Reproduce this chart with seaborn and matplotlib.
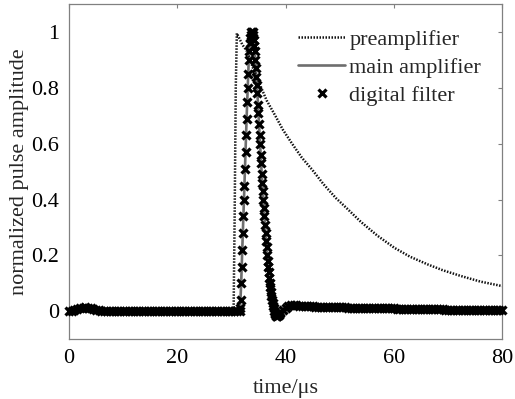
import numpy as np
import pandas as pd
import matplotlib
matplotlib.use("Agg")
import matplotlib.pyplot as plt
from matplotlib.lines import Line2D
import seaborn as sns

# ---------------- data ----------------
pre_time = [0, 30.4, 30.6, 30.8, 31.0, 31.5, 32.0, 32.9, 34.0, 35.4, 36.5, 38.1,
            39.5, 41.2, 43.0, 44.9, 47.0, 49.3, 51.5, 53.9, 57.0, 60.1, 63.0,
            66.2, 69.0, 72.4, 76.0, 80.0]
pre_amp = [0, 0, 0.35, 0.8, 0.995, 0.975, 0.955, 0.93, 0.87, 0.805, 0.755, 0.70,
           0.65, 0.60, 0.55, 0.507, 0.455, 0.405, 0.365, 0.32, 0.27, 0.227, 0.195,
           0.168, 0.147, 0.126, 0.106, 0.09]

main_time = [0, 1, 2, 3, 4, 5, 6, 7, 31.5, 31.6, 31.8, 32.0, 32.4, 32.8, 33.2,
             33.5, 33.8, 34.1, 34.4, 34.8, 35.2, 35.6, 36.0, 36.4, 36.8, 37.2,
             37.6, 38.0, 38.4, 38.8, 39.2, 40, 41, 42, 44, 50, 60, 70, 80]
main_amp = [0, 0.005, 0.011, 0.014, 0.011, 0.006, 0.002, 0, 0, 0.01, 0.10, 0.22,
            0.45, 0.69, 0.90, 0.98, 1.0, 0.97, 0.90, 0.78, 0.63, 0.49, 0.37, 0.25,
            0.16, 0.085, 0.03, -0.008, -0.018, -0.009, 0.0, 0.012, 0.021, 0.021,
            0.017, 0.014, 0.011, 0.008, 0.006]

# digital filter samples
df_time_a = np.round(np.arange(0, 31.01, 0.5), 2)
df_amp_a = [0.0, 0.002, 0.005, 0.008, 0.011, 0.013, 0.014, 0.013, 0.011, 0.009,
            0.006, 0.004, 0.002, 0.001, 0, 0, 0, 0, 0, 0,
            0, 0, 0, 0, 0, 0, 0, 0, 0, 0,
            0, 0, 0, 0, 0, 0, 0, 0, 0, 0,
            0, 0, 0, 0, 0, 0, 0, 0, 0, 0,
            0, 0, 0, 0, 0, 0, 0, 0, 0, 0,
            0, 0, 0]
df_time_b = np.round(np.arange(31.5, 39.01, 0.1), 2)
df_amp_b = [0.0, 0.01, 0.04, 0.10, 0.16, 0.22, 0.28, 0.34, 0.40, 0.45,
            0.51, 0.57, 0.63, 0.69, 0.75, 0.80, 0.85, 0.90, 0.93, 0.96,
            0.98, 0.99, 1.0, 1.0, 1.0, 0.99, 0.97, 0.95, 0.93, 0.90,
            0.87, 0.84, 0.81, 0.78, 0.74, 0.71, 0.67, 0.63, 0.60, 0.56,
            0.53, 0.49, 0.46, 0.43, 0.40, 0.37, 0.34, 0.31, 0.28, 0.25,
            0.23, 0.20, 0.18, 0.16, 0.14, 0.12, 0.10, 0.085, 0.07, 0.055,
            0.04, 0.03, 0.02, 0.01, 0.0, -0.006, -0.011, -0.014, -0.016, -0.017,
            -0.016, -0.014, -0.012, -0.009, -0.006, -0.003]
df_time_c = np.round(np.arange(39.5, 80.01, 0.5), 2)
df_amp_c = [0.004, 0.012, 0.018, 0.021, 0.022, 0.021, 0.020, 0.019, 0.018, 0.017,
            0.017, 0.017, 0.016, 0.016, 0.016, 0.016, 0.015, 0.015, 0.015, 0.015,
            0.014, 0.014, 0.014, 0.014, 0.013, 0.013, 0.013, 0.013, 0.012, 0.012,
            0.012, 0.012, 0.012, 0.011, 0.011, 0.011, 0.011, 0.010, 0.010, 0.010,
            0.010, 0.010, 0.009, 0.009, 0.009, 0.009, 0.009, 0.008, 0.008, 0.008,
            0.008, 0.008, 0.008, 0.007, 0.007, 0.007, 0.007, 0.007, 0.007, 0.007,
            0.006, 0.006, 0.006, 0.006, 0.006, 0.006, 0.006, 0.006, 0.006, 0.006,
            0.006, 0.006, 0.006, 0.006, 0.006, 0.006, 0.006, 0.006, 0.006, 0.006,
            0.006, 0.006]

x_ticks = [0, 20, 40, 60, 80]
y_ticks = [0, 0.2, 0.4, 0.6, 0.8, 1]
y_tick_labels = ["0", "0.2", "0.4", "0.6", "0.8", "1"]
labels = ["preamplifier", "main amplifier", "digital filter"]

# ---------------- plotting ----------------
sns.set_theme(style="white")
plt.rcParams["font.family"] = ["Liberation Serif", "DejaVu Serif"]

fig = plt.figure(figsize=(5.15, 3.99), dpi=100)
ax = fig.add_axes([0.134, 0.150, 0.841, 0.840])

pre_df = pd.DataFrame({"t": pre_time, "v": pre_amp})
main_df = pd.DataFrame({"t": main_time, "v": main_amp})
filt_df = pd.DataFrame({
    "t": np.concatenate([df_time_a, df_time_b, df_time_c]),
    "v": np.concatenate([df_amp_a, df_amp_b, df_amp_c]),
})

pre_style = dict(color="#111111", lw=1.8, linestyle=(0, (0.6, 0.6)))
main_style = dict(color="#6e6e6e", lw=1.9)
filt_style = dict(color="black", linestyle="none", marker="x", ms=6, mew=2.3)

sns.lineplot(data=main_df, x="t", y="v", ax=ax, sort=False, estimator=None,
             zorder=2, **main_style)
sns.lineplot(data=pre_df, x="t", y="v", ax=ax, sort=False, estimator=None,
             zorder=3, **pre_style)
ax.plot(filt_df["t"], filt_df["v"], zorder=4, clip_on=False, **filt_style)

ax.set_xlim(0, 80)
ax.set_ylim(-0.1, 1.1)
ax.set_xticks(x_ticks)
ax.set_xticklabels([str(v) for v in x_ticks])
ax.set_yticks(y_ticks)
ax.set_yticklabels(y_tick_labels)
ax.tick_params(direction="in", length=3, width=0.8, color="#808080",
               labelsize=16, top=True, right=True, pad=7, labelcolor="black")
for s in ax.spines.values():
    s.set_color("#808080")
    s.set_linewidth(0.9)

ax.set_xlabel("time/μs", fontsize=16, labelpad=8)
ax.set_ylabel("normalized pulse amplitude", fontsize=16, labelpad=2)

handles = [Line2D([], [], **pre_style), Line2D([], [], **main_style),
           Line2D([], [], **filt_style)]
ax.legend(handles, labels, loc="upper right", frameon=False, fontsize=16,
          handlelength=2.1, handletextpad=0.2, labelspacing=0.33,
          borderaxespad=0.0, bbox_to_anchor=(0.972, 0.95))

fig.savefig("out.png", dpi=100, facecolor="white")
